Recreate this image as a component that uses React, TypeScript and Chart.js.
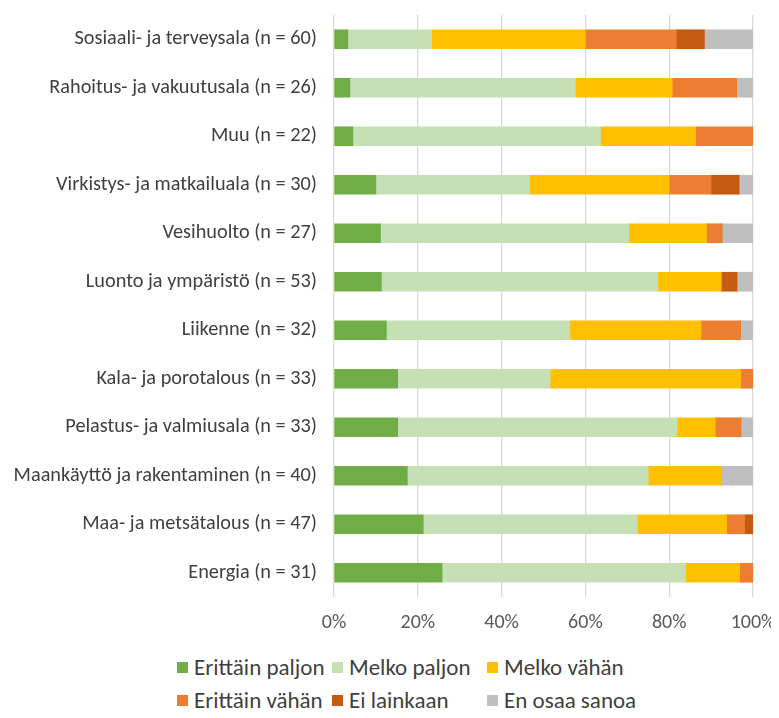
import React, { useEffect, useRef } from "react";
import { Chart, registerables } from "chart.js";

Chart.register(...registerables);

const categories = [
  "Sosiaali- ja terveysala (n = 60)",
  "Rahoitus- ja vakuutusala (n = 26)",
  "Muu (n = 22)",
  "Virkistys- ja matkailuala (n = 30)",
  "Vesihuolto (n = 27)",
  "Luonto ja ympäristö (n = 53)",
  "Liikenne (n = 32)",
  "Kala- ja porotalous (n = 33)",
  "Pelastus- ja valmiusala (n = 33)",
  "Maankäyttö ja rakentaminen (n = 40)",
  "Maa- ja metsätalous (n = 47)",
  "Energia (n = 31)",
];

const erittainPaljon = [3.3, 3.8, 4.5, 10.0, 11.1, 11.3, 12.5, 15.2, 15.2, 17.5, 21.3, 25.8];
const melkoPaljon = [20.0, 53.8, 59.1, 36.7, 59.3, 66.0, 43.8, 36.4, 66.7, 57.5, 51.1, 58.1];
const melkoVahan = [36.7, 23.1, 22.7, 33.3, 18.5, 15.1, 31.3, 45.5, 9.1, 17.5, 21.3, 12.9];
const erittainVahan = [21.7, 15.4, 13.6, 10.0, 3.7, 0, 9.4, 3.0, 6.1, 0, 4.3, 3.2];
const eiLainkaan = [6.7, 0, 0, 6.7, 0, 3.8, 0, 0, 0, 0, 2.1, 0];
const enOsaaSanoa = [11.7, 3.8, 0, 3.3, 7.4, 3.8, 3.1, 0, 3.0, 7.5, 0, 0];

const seriesNames = [
  "Erittäin paljon",
  "Melko paljon",
  "Melko vähän",
  "Erittäin vähän",
  "Ei lainkaan",
  "En osaa sanoa",
];
const seriesColors = ["#70ad47", "#c5e0b4", "#ffc000", "#ed7d31", "#c55a11", "#bfbfbf"];
const seriesData = [erittainPaljon, melkoPaljon, melkoVahan, erittainVahan, eiLainkaan, enOsaaSanoa];

const xTicks = [0, 20, 40, 60, 80, 100];

const FONT = "Carlito, Lato, sans-serif";

export default function App() {
  const canvasRef = useRef<HTMLCanvasElement | null>(null);

  useEffect(() => {
    if (!canvasRef.current) return;
    const chart = new Chart(canvasRef.current, {
      type: "bar",
      data: {
        labels: categories,
        datasets: seriesNames.map((name, i) => ({
          label: name,
          data: seriesData[i],
          backgroundColor: seriesColors[i],
          borderWidth: 0,
          barThickness: 19,
        })),
      },
      options: {
        indexAxis: "y",
        responsive: true,
        maintainAspectRatio: false,
        animation: false,
        layout: { padding: { top: 7, right: 26, left: 0, bottom: 0 } },
        plugins: {
          legend: { display: false },
          tooltip: { enabled: false },
        },
        scales: {
          x: {
            stacked: true,
            min: 0,
            max: 100,
            afterBuildTicks: (scale: any) => {
              scale.ticks = xTicks.map((v) => ({ value: v }));
            },
            afterFit: (scale: any) => {
              scale.height = 52;
              scale.paddingLeft = 0;
              scale.paddingRight = 0;
            },
            grid: { color: "#d9d9d9", lineWidth: 1.3, drawTicks: false },
            border: { display: false },
            ticks: {
              padding: 14,
              color: "#595959",
              font: { family: FONT, size: 20 },
              callback: (v: any) => v + "%",
            },
          },
          y: {
            stacked: true,
            afterFit: (scale: any) => {
              scale.width = 326;
              scale.paddingTop = 0;
              scale.paddingBottom = 0;
            },
            grid: { display: false, drawTicks: false },
            border: { display: false },
            ticks: {
              padding: 17,
              color: "#404040",
              font: { family: FONT, size: 20.3 },
            },
          },
        },
      },
    });
    return () => chart.destroy();
  }, []);

  const legendRows = [
    [0, 1, 2],
    [3, 4, 5],
  ];

  return (
    <div style={{ position: "relative", width: 771, height: 702, fontFamily: FONT }}>
      <div style={{ position: "absolute", left: 0, top: 0, width: 771, height: 641 }}>
        <canvas ref={canvasRef} />
      </div>
      {legendRows.map((row, r) => (
        <div
          key={r}
          style={{
            position: "absolute",
            top: 644 + r * 33,
            left: 169,
            height: 30,
            display: "flex",
            alignItems: "center",
          }}
        >
          {row.map((si) => (
            <div key={si} style={{ display: "flex", alignItems: "center", width: 155 }}>
              <span
                style={{
                  display: "inline-block",
                  width: 11,
                  height: 11,
                  background: seriesColors[si],
                  marginRight: 6,
                }}
              />
              <span style={{ fontSize: 23, color: "#404040", whiteSpace: "nowrap" }}>{seriesNames[si]}</span>
            </div>
          ))}
        </div>
      ))}
    </div>
  );
}
